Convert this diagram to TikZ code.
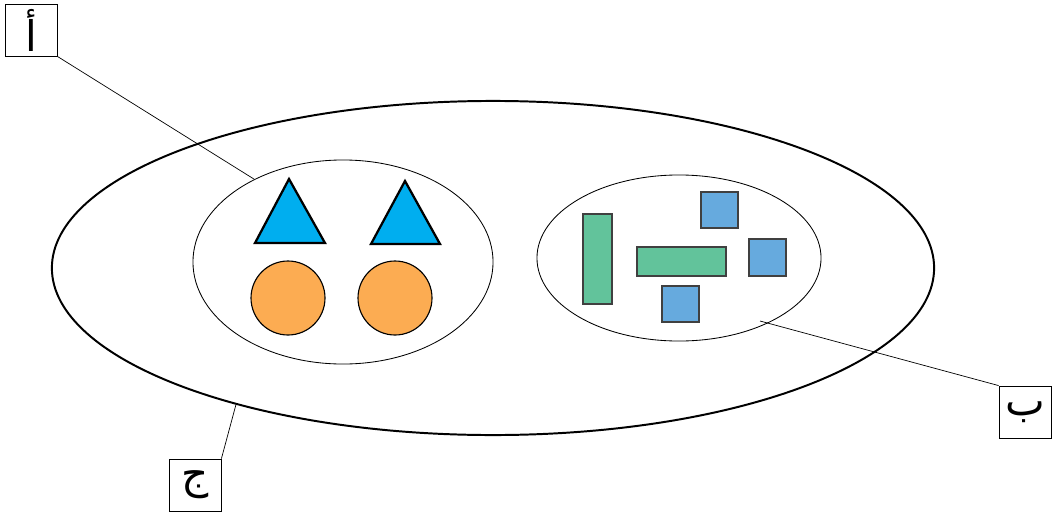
\documentclass[tikz,border=0pt]{standalone}
\usepackage{fontspec}
\newfontfamily\arabicfont[Script=Arabic]{DejaVu Sans}
\TeXXeTstate=1
\usetikzlibrary{shapes.geometric}
\definecolor{triblue}{RGB}{0,174,239}
\definecolor{discorange}{RGB}{252,172,82}
\definecolor{bargreen}{RGB}{98,195,155}
\definecolor{sqblue}{RGB}{102,170,222}
\begin{document}
\begin{tikzpicture}[
		x=0.025cm, y=-0.025cm,
		set/.style={draw, ellipse, inner sep=0pt, line width=0.6pt},
		label box/.style={draw, line width=0.6pt, minimum size=1.3cm, inner sep=0pt, font=\arabicfont\fontsize{30}{32}\selectfont},
		pointer/.style={draw, line width=0.5pt},
		tri/.style={draw=black, fill=triblue, line width=1.6pt},
		disc/.style={draw=black, fill=discorange, line width=0.8pt},
		bar/.style={draw=black!75, fill=bargreen, line width=0.8pt},
		sq/.style={draw=black!75, fill=sqblue, line width=0.8pt},
		]
		\useasboundingbox (0,0) rectangle (1052,513);
		% sets
		\node[set, line width=1.4pt, minimum width=22.05cm, minimum height=8.35cm] (outer) at (493,268) {};
		\node[set, minimum width=7.5cm, minimum height=5.1cm] (leftset) at (343,262) {};
		\node[set, minimum width=7.1cm, minimum height=4.15cm] (rightset) at (679,258) {};
		% members of the left set
		\draw[tri] (289,179) -- (325,243) -- (255,243) -- cycle;
		\draw[tri] (405,181) -- (440,244) -- (371,244) -- cycle;
		\draw[disc] (288,298) circle[radius=37];
		\draw[disc] (395,298) circle[radius=37];
		% members of the right set
		\draw[bar] (583,214) rectangle (612,304);
		\draw[bar] (637,247) rectangle (726,276);
		\draw[sq] (701,192) rectangle (738,228);
		\draw[sq] (749,239) rectangle (786,276);
		\draw[sq] (662,286) rectangle (699,322);
		% labels
		\node[label box] (labA) at (31,30) {\beginR أ\endR};
		\node[label box] (labB) at (1025,412) {\beginR ب\endR};
		\node[label box] (labC) at (195,485) {\beginR ج\endR};
		\coordinate (inB) at (760,321);
		\draw[pointer] (labA.south east) -- (leftset.137);
		\draw[pointer] (labB.north west) -- (inB);
		\draw[pointer] (labC.north east) -- (outer.208);
	\end{tikzpicture}
\end{document}
